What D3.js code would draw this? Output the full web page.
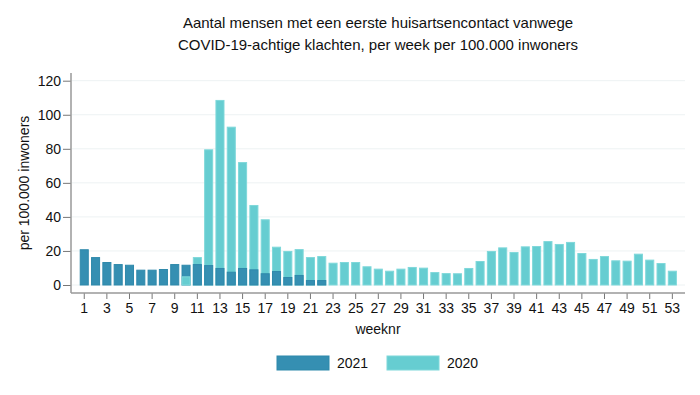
<!DOCTYPE html>
<html>
<head>
<meta charset="utf-8">
<script src="https://cdn.jsdelivr.net/npm/d3@7"></script>
<style>
  body { margin: 0; background: #fff; }
  text { font-family: "Liberation Sans", Arial, sans-serif; fill: #111; }
</style>
</head>
<body>
<svg width="700" height="395"></svg>
<script>
// weeks and values per 100.000 inhabitants
let weeks = d3.range(1, 54);
let values2021 = [21, 16.4, 13.5, 12.3, 11.9, 9, 9, 9.4, 12.3, 11.9, 12.3, 11.7, 10, 7.8, 10, 9.2,
    6.9, 8.2, 4.7, 5.9, 2.9, 2.9];
let values2020 = [null, null, null, null, null, null, null, null, null, 5.1, 16.4, 79.7, 108.7, 93, 72.2, 47,
    38.6, 22.5, 20, 21.1, 16.4, 17, 13.1, 13.5, 13.5, 11, 9.6, 8.4, 9.6, 10.6, 10.2, 7.6,
    7, 6.9, 10, 14.1, 20, 22.1, 19.4, 22.7, 22.9, 25.8, 24.1, 25.3, 18.8, 15.3, 17, 14.5, 14.3, 18.4, 14.9, 12.9, 8.4];
let yTicks = [0, 20, 40, 60, 80, 100, 120];
let xTicks = weeks.filter(w => w % 2 == 1);
let seriesNames = ['2021', '2020'];
let seriesColors = ['#358fb2', '#66cdd1'];
let seriesStroke = ['#2f89ab', '#7fd8da'];

let svg = d3.select('svg');

let xScale = d3.scaleBand()
    .domain(weeks)
    .range([78.6, 678])
    .paddingInner(0.2)
    .paddingOuter(0.1);

let yScale = d3.scaleLinear()
    .domain([0, 120])
    .range([285, 80.7]);

// gridlines
svg.append('g').selectAll('line').data(yTicks)
    .enter().append('line')
    .attr('x1', 72).attr('x2', 685)
    .attr('y1', d => yScale(d)).attr('y2', d => yScale(d))
    .attr('stroke', '#edf2f3')
    .attr('stroke-width', 1);

// bars: per week, taller bar first, shorter bar on top
let bars = [];
weeks.forEach((w, i) => {
    let pair = [];
    if (values2021[i] != null) pair.push({week: w, value: values2021[i], s: 0});
    if (values2020[i] != null) pair.push({week: w, value: values2020[i], s: 1});
    pair.sort((a, b) => b.value - a.value);
    bars = bars.concat(pair);
});

svg.append('g').selectAll('rect').data(bars)
    .enter().append('rect')
    .attr('x', d => xScale(d.week) + 0.5)
    .attr('y', d => yScale(d.value) + 0.5)
    .attr('width', xScale.bandwidth() - 1)
    .attr('height', d => yScale(0) - yScale(d.value) - 0.5)
    .attr('fill', d => seriesColors[d.s])
    .attr('stroke', d => seriesStroke[d.s])
    .attr('stroke-width', 1);

// y axis
let yAxis = svg.append('g')
    .attr('transform', 'translate(71,0)')
    .call(d3.axisLeft(yScale).tickValues(yTicks).tickSize(8).tickPadding(2));
yAxis.select('.domain').remove();
yAxis.selectAll('line').attr('stroke', '#777');
yAxis.selectAll('text').attr('font-size', 14).attr('fill', '#111')
    .attr('font-family', '"Liberation Sans", Arial, sans-serif');
svg.append('line')
    .attr('x1', 71).attr('x2', 71).attr('y1', 73).attr('y2', 293)
    .attr('stroke', '#999').attr('stroke-width', 1.5);

// x axis
let xAxis = svg.append('g')
    .attr('transform', 'translate(0,293)')
    .call(d3.axisBottom(xScale).tickValues(xTicks).tickSize(6).tickPadding(4));
xAxis.select('.domain').remove();
xAxis.selectAll('line').attr('stroke', '#777');
xAxis.selectAll('text').attr('font-size', 14).attr('fill', '#111')
    .attr('font-family', '"Liberation Sans", Arial, sans-serif');
svg.append('line')
    .attr('x1', 71).attr('x2', 685).attr('y1', 293).attr('y2', 293)
    .attr('stroke', '#999').attr('stroke-width', 1.5);

// axis titles
svg.append('text')
    .attr('x', 378).attr('y', 334)
    .attr('text-anchor', 'middle')
    .attr('font-size', 14)
    .text('weeknr');

svg.append('text')
    .attr('transform', 'translate(29,183) rotate(-90)')
    .attr('text-anchor', 'middle')
    .attr('font-size', 14)
    .text('per 100.000 inwoners');

// title
svg.append('text')
    .attr('x', 378).attr('y', 28)
    .attr('text-anchor', 'middle')
    .attr('font-size', 15)
    .text('Aantal mensen met een eerste huisartsencontact vanwege');
svg.append('text')
    .attr('x', 378).attr('y', 50)
    .attr('text-anchor', 'middle')
    .attr('font-size', 15)
    .text('COVID-19-achtige klachten, per week per 100.000 inwoners');

// legend
let legend = svg.append('g');
let legendX = [277, 387];
seriesNames.forEach((name, i) => {
    legend.append('rect')
        .attr('x', legendX[i]).attr('y', 356)
        .attr('width', 52).attr('height', 14)
        .attr('fill', seriesColors[i])
        .attr('stroke', seriesStroke[i]);
    legend.append('text')
        .attr('x', legendX[i] + 60).attr('y', 368)
        .attr('font-size', 14)
        .text(name);
});
</script>
</body>
</html>
